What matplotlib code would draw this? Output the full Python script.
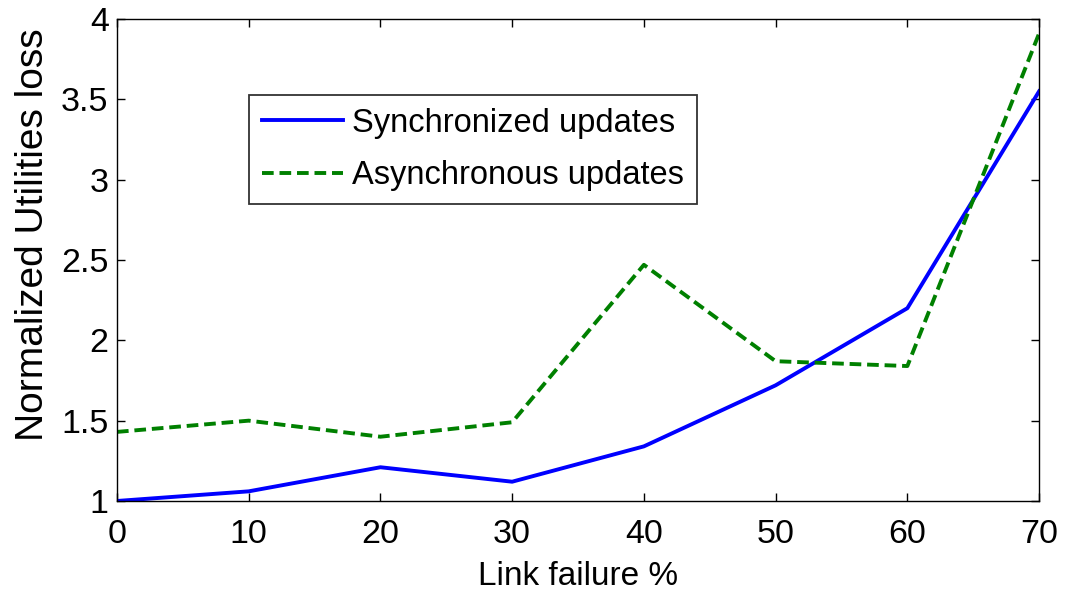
import numpy as np
import matplotlib
matplotlib.use("Agg")
import matplotlib.pyplot as plt

plt.rcParams['font.family'] = ['Liberation Sans Narrow', 'Liberation Sans', 'DejaVu Sans']

failure = [0, 10, 20, 30, 40, 50, 60, 70]
sync_loss = [1.00, 1.06, 1.21, 1.12, 1.34, 1.72, 2.20, 3.55]
async_loss = [1.43, 1.50, 1.40, 1.49, 2.47, 1.87, 1.84, 3.91]

fig = plt.figure(figsize=(10.76, 6.02), dpi=100)
ax = fig.add_axes([0.1087, 0.1678, 0.8570, 0.8006])

ax.plot(failure, sync_loss, color=(0, 0, 1), lw=2.8, label="Synchronized updates")
ax.plot(failure, async_loss, color=(0, 0.5, 0), lw=2.8, dashes=(3.0, 1.5),
        label="Asynchronous updates")

ax.set_xlim(0, 70)
ax.set_ylim(1, 4)
ax.set_xticks(np.arange(0, 71, 10))
ax.set_yticks([1, 1.5, 2, 2.5, 3, 3.5, 4])
ax.set_yticklabels(["1", "1.5", "2", "2.5", "3", "3.5", "4"])
ax.tick_params(direction='in', length=6, width=1, top=True, right=True,
               labelsize=24.5)
ax.tick_params(axis='x', pad=13)
ax.tick_params(axis='y', pad=6)
for s in ax.spines.values():
    s.set_linewidth(1.0)

ax.set_xlabel("Link failure %", fontsize=24, labelpad=8)
ax.set_ylabel("Normalized Utilities loss", fontsize=28)
ax.yaxis.set_label_coords(-0.071, 0.552)

leg = ax.legend(loc='upper left', bbox_to_anchor=(0.143, 0.843), fontsize=23.5,
                frameon=True, fancybox=False, edgecolor='black',
                handlelength=2.5, handletextpad=0.25, labelspacing=0.65,
                borderpad=0.4, borderaxespad=0)
leg.get_frame().set_linewidth(1.3)

fig.savefig("out.png", dpi=100)
